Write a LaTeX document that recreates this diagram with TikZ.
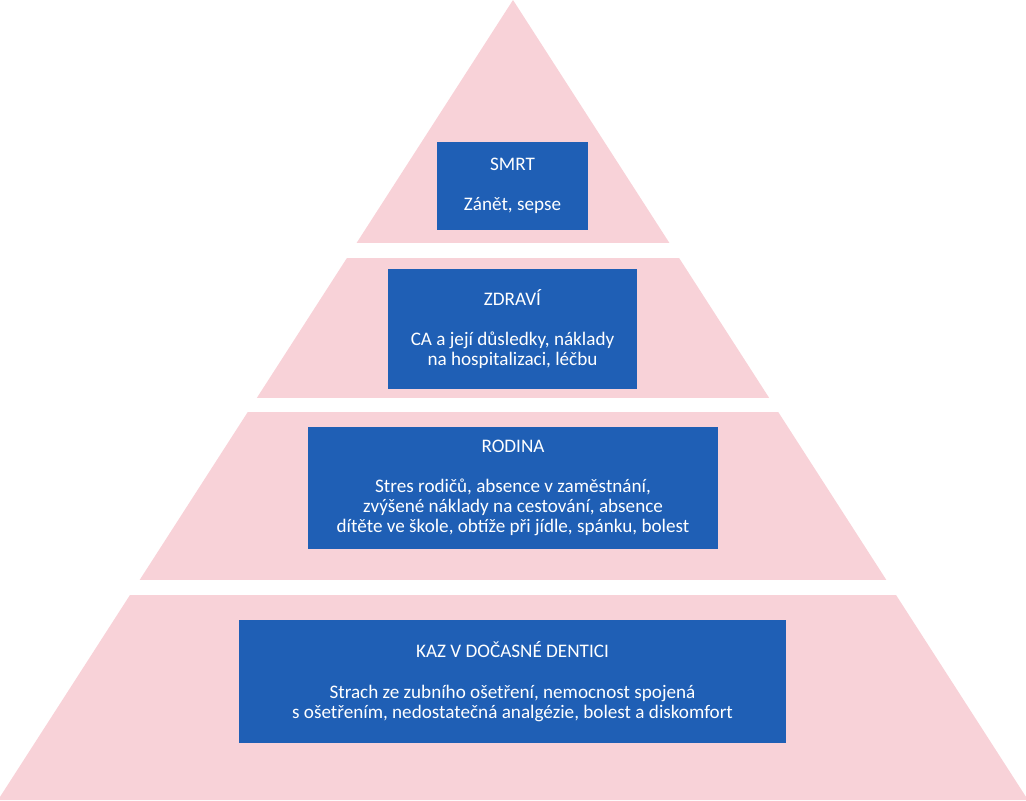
\documentclass[tikz,border=0pt]{standalone}
\usepackage{fontspec}
\setmainfont{Carlito}
\definecolor{tierpink}{HTML}{F8D2D8}
\definecolor{boxblue}{HTML}{1F5FB5}
\begin{document}
\begin{tikzpicture}[x=0.02cm,y=-0.02cm]
    \tikzset{level/.style={fill=boxblue,text=white,font=\fontsize{10.9}{11.5}\selectfont,align=center,inner sep=0pt}}
    \useasboundingbox (0,0) rectangle (1026,800);
    % pyramid
    \fill[tierpink] (513,0) -- (-2,800) -- (1028,800) -- cycle;
    \fill[white] (0,243) rectangle (1026,258);
    \fill[white] (0,398) rectangle (1026,412);
    \fill[white] (0,580) rectangle (1026,595);
    % boxes
    \node[level,minimum width=151*0.02cm,minimum height=88*0.02cm] (smrt) at (512.5,186) {SMRT\\[11pt]Zánět, sepse};
    \node[level,minimum width=249*0.02cm,minimum height=120*0.02cm] (zdravi) at (512.5,329) {ZDRAVÍ\\[11pt]CA a její důsledky, náklady\\na hospitalizaci, léčbu};
    \node[level,minimum width=410*0.02cm,minimum height=122*0.02cm] (rodina) at (513,488) {RODINA\\[11pt]Stres rodičů, absence v zaměstnání,\\zvýšené náklady na cestování, absence\\dítěte ve škole, obtíže při jídle, spánku, bolest};
    \node[level,minimum width=547*0.02cm,minimum height=123*0.02cm] (kaz) at (512.5,681.5) {KAZ V DOČASNÉ DENTICI\\[12pt]Strach ze zubního ošetření, nemocnost spojená\\s ošetřením, nedostatečná analgézie, bolest a diskomfort};
\end{tikzpicture}
\end{document}
